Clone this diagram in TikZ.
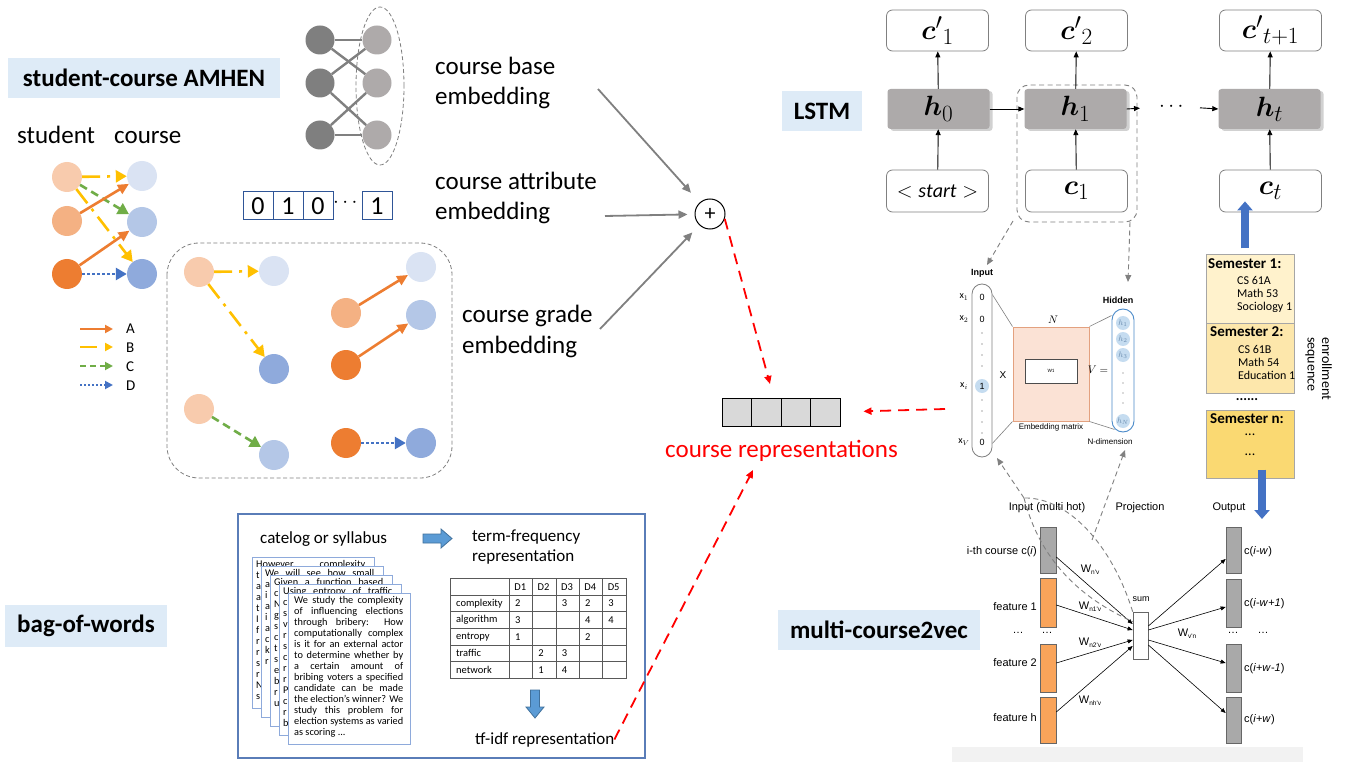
\documentclass[tikz,border=0pt]{standalone}
\usepackage{amsmath}
\usepackage{bm}
\usepackage{graphicx}
\usepackage{fontspec}
\setmainfont{Carlito}
\newfontfamily\helv{Liberation Sans}
\usetikzlibrary{arrows.meta,calc,shadows}

\newcommand\fsz[2]{\fontsize{#1}{#2}\selectfont}
\newcommand\jline[1]{\makebox[109pt][s]{#1}}
\newcommand\wsub[1]{W{\fsz{6.5}{7}\raisebox{-2.2pt}{#1}}}
\newcommand\lstmmath[1]{\scalebox{1.12}{#1}}

\definecolor{tagblue}{HTML}{DEEBF7}
\definecolor{stuA}{HTML}{F8CBAD}
\definecolor{stuB}{HTML}{F4B183}
\definecolor{stuC}{HTML}{ED7D31}
\definecolor{crsA}{HTML}{DAE3F3}
\definecolor{crsB}{HTML}{B4C7E7}
\definecolor{crsC}{HTML}{8FAADC}
\definecolor{colA}{HTML}{ED7D31}
\definecolor{colB}{HTML}{FFC000}
\definecolor{colC}{HTML}{70AD47}
\definecolor{colD}{HTML}{4472C4}
\definecolor{netdark}{HTML}{7F7F7F}
\definecolor{netlight}{HTML}{AEAAAA}
\definecolor{vecblue}{HTML}{2F5597}
\definecolor{boxgray}{HTML}{808080}
\definecolor{hgray}{HTML}{ADAAAA}
\definecolor{semA}{HTML}{FFF2CC}
\definecolor{semB}{HTML}{FDE7AB}
\definecolor{semC}{HTML}{FAD972}
\definecolor{semedge}{HTML}{A6A6A6}
\definecolor{featorange}{HTML}{F9A45A}
\definecolor{bargray}{HTML}{A9A9A9}
\definecolor{embfill}{HTML}{FBE2D5}
\definecolor{embline}{HTML}{E3A17F}
\definecolor{hidblue}{HTML}{4A8AC9}
\definecolor{hidfill}{HTML}{C5DCF0}
\definecolor{hidtext}{HTML}{6A8CAF}
\definecolor{pageline}{HTML}{8EAADB}
\definecolor{bowframe}{HTML}{5A7DB8}
\definecolor{blockblue}{HTML}{5B9BD5}
\definecolor{blockedge}{HTML}{41719C}
\definecolor{tblline}{HTML}{595959}

\tikzset{
  tag/.style={fill=tagblue, inner sep=0pt, font=\bfseries\fsz{25}{30}},
  bigtxt/.style={font=\fsz{25}{30}, inner sep=0pt, anchor=base west},
  midtxt/.style={font=\fsz{17}{20}, inner sep=0pt, anchor=base west},
  dot/.style={circle, minimum size=30pt, inner sep=0pt},
  tipbig/.style={-{Triangle[length=11pt,width=12pt]}},
  eA/.style={draw=colA, line width=2.6pt, -{Triangle[length=11pt,width=10pt]}},
  eB/.style={draw=colB, line width=2.6pt, dash pattern=on 18pt off 7pt on 3pt off 7pt, tipbig},
  eC/.style={draw=colC, line width=2.6pt, dash pattern=on 8pt off 5pt, tipbig},
  eD/.style={draw=colD, line width=2.6pt, dash pattern=on 2.6pt off 2.4pt, tipbig},
  legtip/.style={line width=2pt, -{Triangle[length=8pt,width=8pt]}},
  netnode/.style={circle, minimum size=29pt, inner sep=0pt},
  netedge/.style={draw=boxgray, line width=2.4pt},
  bitcell/.style={draw=vecblue, line width=1pt, minimum width=30pt, minimum height=28pt, inner sep=0pt, font=\fsz{26}{28}},
  grayarrow/.style={draw=boxgray, line width=1.8pt, -{Triangle[length=9pt,width=8pt]}},
  redarrow/.style={draw=red, line width=1.8pt, dash pattern=on 11pt off 7pt, -{Triangle[length=8pt,width=7pt]}},
  veccell/.style={draw=black, fill=black!15, line width=0.9pt, minimum width=29.5pt, minimum height=28pt, inner sep=0pt},
  lbox/.style={draw=boxgray, fill=white, rounded corners=6pt, line width=0.8pt, minimum width=102pt, minimum height=41pt, inner sep=0pt, font=\fsz{24.88}{30}},
  hbox/.style={fill=hgray, rounded corners=3pt, minimum width=102pt, minimum height=40pt, inner sep=0pt, font=\fsz{24.88}{30},
    drop shadow={shadow xshift=3pt, shadow yshift=-2pt, fill=black, opacity=0.18}},
  larrow/.style={draw=black, line width=0.9pt, -{Triangle[length=6pt,width=5pt]}},
  gdash/.style={draw=boxgray, line width=0.9pt, dash pattern=on 5pt off 3.5pt},
  gdasharrow/.style={gdash, -{Triangle[length=7pt,width=6pt]}},
  thin/.style={draw=boxgray, line width=0.6pt},
  tiny/.style={font=\helv\fsz{8}{9}, inner sep=0pt},
  small/.style={font=\helv\fsz{11}{12}, inner sep=0pt},
  semhead/.style={font=\bfseries\fsz{15}{17}, inner sep=0pt, anchor=base west},
  semitem/.style={font=\fsz{12}{14}, inner sep=0pt, anchor=base west},
  sembox/.style={draw=semedge, line width=1pt, minimum width=88pt, inner sep=0pt},
  bararrow/.style={draw=black, line width=0.6pt, -{Triangle[length=5pt,width=4pt]}},
  bar/.style={draw=black!60, line width=0.6pt, minimum width=16pt, inner sep=0pt},
  blockarrow/.style={draw=colD, line width=8pt, -{Triangle[length=9pt,width=15pt]}},
  page/.style={draw=pageline, fill=white, line width=1pt, minimum width=122pt, minimum height=151pt, inner sep=0pt},
  pagetext/.style={anchor=north west, inner sep=0pt, align=left, font=\fsz{10.3}{11}},
  tcell/.style={anchor=west, inner sep=0pt, font=\fsz{10.5}{12}}
}

\begin{document}
\begin{tikzpicture}[x=1pt,y=-1pt]
\useasboundingbox (0,0) rectangle (1345,762);
\fill[white] (0,0) rectangle (1345,762);

% ================= student-course AMHEN =================
\node[tag, minimum width=272pt, minimum height=40pt] (tagamh) at (144,78) {student-course AMHEN};
\node[bigtxt] (hdS) at (17,144) {student};
\node[bigtxt] (hdC) at (114,144) {course};

\node[dot, fill=stuA] (s1) at (67,177) {};
\node[dot, fill=stuB] (s2) at (67,221) {};
\node[dot, fill=stuC] (s3) at (67,274) {};
\node[dot, fill=crsA] (c1) at (142,176) {};
\node[dot, fill=crsB] (c2) at (142,222) {};
\node[dot, fill=crsC] (c3) at (142,274) {};
\draw[eB] (s1) -- (c3);
\draw[eC] (s1) -- (c2);
\draw[eA] (s2) -- (c1);
\draw[eA] (s3) -- (c2);
\draw[eB] (s1) -- (c1);
\draw[eD] (s3) -- (c3);

% legend
\coordinate (la0) at (80,329);  \coordinate (la1) at (113,329);
\coordinate (lb0) at (80,347);  \coordinate (lb1) at (113,347);
\coordinate (lc0) at (80,366);  \coordinate (lc1) at (113,366);
\coordinate (ld0) at (80,385);  \coordinate (ld1) at (113,385);
\draw[eA, legtip] (la0) -- (la1);
\draw[eB, legtip, dash pattern=on 17pt off 8pt] (lb0) -- (lb1);
\draw[eC, legtip, line width=1.8pt, dash pattern=on 6pt off 4pt] (lc0) -- (lc1);
\draw[eD, legtip, line width=1.8pt, dash pattern=on 2pt off 2pt] (ld0) -- (ld1);
\node[font=\fsz{15}{18}, anchor=west, inner sep=0pt] (lta) at (126,329) {A};
\node[font=\fsz{15}{18}, anchor=west, inner sep=0pt] (ltb) at (126,348) {B};
\node[font=\fsz{15}{18}, anchor=west, inner sep=0pt] (ltc) at (126,367) {C};
\node[font=\fsz{15}{18}, anchor=west, inner sep=0pt] (ltd) at (126,386) {D};

% ================= course base embedding (network icon) =================
\draw[gdash, line width=0.8pt, dash pattern=on 4pt off 2.5pt] (380,86) ellipse [x radius=24pt, y radius=79pt];
\node[netnode, fill=netdark] (nd1) at (320,40) {};
\node[netnode, fill=netdark] (nd2) at (320,83) {};
\node[netnode, fill=netdark] (nd3) at (320,135) {};
\node[netnode, fill=netlight] (nl1) at (377,40) {};
\node[netnode, fill=netlight] (nl2) at (377,83) {};
\node[netnode, fill=netlight] (nl3) at (377,135) {};
\draw[netedge] (nd1) -- (nl1);
\draw[netedge] (nd1) -- (nl2);
\draw[netedge] (nd2) -- (nl1);
\draw[netedge] (nd2) -- (nl3);
\draw[netedge] (nd3) -- (nl2);
\draw[netedge] (nd3) -- (nl3);

\node[bigtxt] (cbe1) at (435,75) {course base};
\node[bigtxt] (cbe2) at (435,105) {embedding};

% ================= course attribute embedding =================
\node[bitcell] (bit1) at (258,206) {0};
\node[bitcell] (bit2) at (288,206) {1};
\node[bitcell] (bit3) at (318,206) {0};
\node[font=\fsz{20}{22}, inner sep=0pt] (bitdots) at (347,203) {$\cdots$};
\node[bitcell] (bit4) at (377,206) {1};

\node[bigtxt] (cae1) at (435,190) {course attribute};
\node[bigtxt] (cae2) at (435,220) {embedding};

% ================= course grade embedding =================
\draw[gdash, line width=0.8pt, dash pattern=on 4pt off 2.5pt, rounded corners=32pt] (167,243) rectangle (452,478);
\node[dot, fill=stuA] (g1) at (199,272) {};
\node[dot, fill=crsA] (g2) at (274,271) {};
\node[dot, fill=crsC] (g3) at (274,369) {};
\node[dot, fill=stuA] (g4) at (199,409) {};
\node[dot, fill=crsB] (g5) at (274,455) {};
\node[dot, fill=stuB] (g6) at (346,313) {};
\node[dot, fill=crsA] (g7) at (421,267) {};
\node[dot, fill=stuC] (g8) at (346,365) {};
\node[dot, fill=crsB] (g9) at (421,315) {};
\node[dot, fill=stuC] (g10) at (346,443) {};
\node[dot, fill=crsC] (g11) at (421,443) {};
\draw[eB] (g1) -- (g2);
\draw[eB] (g1) -- (g3);
\draw[eC] (g4) -- (g5);
\draw[eA] (g6) -- (g7);
\draw[eA] (g8) -- (g9);
\draw[eD] (g10) -- (g11);

\node[bigtxt] (cge1) at (462,323) {course grade};
\node[bigtxt] (cge2) at (462,353) {embedding};

% ================= combination =================
\node[circle, draw=black, line width=1pt, minimum size=30pt, inner sep=0pt, font=\fsz{22}{22}] (plus) at (710,214) {+};
\coordinate (gaS) at (598,89);
\coordinate (gbS) at (605,216);
\coordinate (gcS) at (600,329);
\draw[grayarrow, shorten >=13pt] (gaS) -- (plus);
\draw[grayarrow, shorten >=7pt] (gbS) -- (plus);
\draw[grayarrow, shorten >=10pt] (gcS) -- (plus);

\node[veccell] (v1) at (736.75,412) {};
\node[veccell] (v2) at (766.25,412) {};
\node[veccell] (v3) at (795.75,412) {};
\node[veccell] (v4) at (825.25,412) {};
\node[font=\fsz{25}{30}, text=red, inner sep=0pt, anchor=base] (reptxt) at (781.5,457) {course representations};

\coordinate (repTop) at (770,384);
\coordinate (repBot) at (753,470);
\coordinate (embOut) at (945,409);
\draw[redarrow] (plus.-18) -- (repTop);
\draw[redarrow, shorten >=23pt] (embOut) -- (v4.east);

% ================= bag-of-words =================
\node[tag, minimum width=162pt, minimum height=42pt] (tagbow) at (86,626) {bag-of-words};
\draw[draw=bowframe, line width=1.3pt] (238,514) rectangle (645,758);
\node[midtxt] (catlbl) at (260,543) {catelog or syllabus};
\filldraw[fill=blockblue, draw=blockedge, line width=0.8pt]
  (423,534) -- (441,534) -- (441,529) -- (452,538.5) -- (441,548) -- (441,543) -- (423,543) -- cycle;
\node[midtxt] (tf1) at (472,541) {term-frequency};
\node[midtxt] (tf2) at (472,561) {representation};

% stacked documents: only the uncovered parts of the back pages carry text
\node[page] (pg1) at (313,632.5) {};
\node[pagetext] (pt1) at ($(pg1.north west)+(4.5,3.5)$) {%
\jline{However,  complexity}\\ t\\ a\\ a\\ t\\ I\\ f\\ r\\ r\\ s\\ r\\ N\\ s};
\node[page] (pg2) at (322,641.5) {};
\node[pagetext] (pt2) at ($(pg2.north west)+(4.5,3.5)$) {%
\jline{We  will  see  how  small}\\ a\\ i\\ a\\ i\\ a\\ c\\ k\\ r};
\node[page] (pg3) at (331,650.5) {};
\node[pagetext] (pt3) at ($(pg3.north west)+(4.5,3.5)$) {%
\jline{Given  a  function  based}\\ c\\ N\\ g\\ s\\ c\\ t\\ s\\ e\\ b\\ r\\ u};
\node[page] (pg4) at (340,659.5) {};
\node[pagetext] (pt4) at ($(pg4.north west)+(4.5,3.5)$) {%
\jline{Using  entropy  of  traffic}\\ c\\ s\\ v\\ r\\ s\\ c\\ r\\ r\\ P\\ c\\ r\\ b};
\node[page] (pg5) at (349,669) {};
\node[pagetext] (pt5) at ($(pg5.north west)+(6.5,3.5)$) {%
\jline{We study the complexity}\\ \jline{of influencing elections}\\ \jline{through bribery: How}\\
\jline{computationally complex}\\ \jline{is it for an external actor}\\ \jline{to determine whether by}\\
\jline{a certain amount of}\\ \jline{bribing voters a specified}\\ \jline{candidate can be made}\\
\jline{the election's winner? We}\\ \jline{study this problem for}\\ \jline{election systems as varied}\\
as scoring ...};

% term-frequency table
\foreach \yy in {578.3,595,611.7,628.3,645,661.7,678.3}
  \draw[draw=tblline, line width=0.9pt] (450,\yy) -- (626.7,\yy);
\foreach \xx in {450,509.3,532.7,556,579.3,602.7,626.7}
  \draw[draw=tblline, line width=0.9pt] (\xx,578.3) -- (\xx,678.3);
\foreach \c in {1,...,5}
  \node[tcell] (hd\c) at ({490.8+23.35*\c},586.7) {D\c};
\node[tcell] (rw1) at (456,603.3) {complexity};
\node[tcell] (rw2) at (456,620) {algorithm};
\node[tcell] (rw3) at (456,636.7) {entropy};
\node[tcell] (rw4) at (456,653.3) {traffic};
\node[tcell] (rw5) at (456,670) {network};
\foreach \c/\r/\v in {1/1/2,3/1/3,4/1/2,5/1/3,1/2/3,4/2/4,5/2/4,1/3/1,4/3/2,2/4/2,3/4/3,2/5/1,3/5/4}
  \node[tcell] (cell\c\r) at ({491.5+23.35*\c},{586.7+16.67*\r}) {\v};

\filldraw[fill=blockblue, draw=blockedge, line width=0.8pt]
  (530.5,690) -- (539.5,690) -- (539.5,707) -- (544,707) -- (535,718) -- (526,707) -- (530.5,707) -- cycle;
\node[midtxt] (tfidf) at (475,744) {tf-idf representation};
\draw[redarrow] (tfidf.east) -- (repBot);

% ================= LSTM =================
\node[tag, minimum width=80pt, minimum height=40pt] (taglstm) at (822,111) {LSTM};
\draw[gdash, rounded corners=12pt] (1017,85) rectangle (1137,222);

\node[lbox] (t0) at (937.5,30.5) {\lstmmath{${\bm{c}'}_{1}$}};
\node[lbox] (t1) at (1076.5,30.5) {\lstmmath{${\bm{c}'}_{2}$}};
\node[lbox] (t2) at (1270.5,30.5) {\lstmmath{${\bm{c}'}_{t+1}$}};
\node[hbox] (h0) at (938.5,109) {\lstmmath{$\bm{h}_{0}$}};
\node[hbox] (h1) at (1075.5,109) {\lstmmath{$\bm{h}_{1}$}};
\node[hbox] (h2) at (1269.5,109) {\lstmmath{$\bm{h}_{t}$}};
\node[lbox, minimum height=42pt, font=\fsz{20}{24}] (b0) at (937.5,191) {$<\mathit{start}>$};
\node[lbox, minimum height=42pt] (b1) at (1076.5,191) {\lstmmath{$\bm{c}_{1}$}};
\node[lbox, minimum height=42pt] (b2) at (1270.5,191) {\lstmmath{$\bm{c}_{t}$}};
\node[font=\fsz{22}{22}, inner sep=0pt] (hdots) at (1173,107) {$\cdots$};

\draw[larrow] (b0) -- (h0);
\draw[larrow] (b1) -- (h1);
\draw[larrow] (b2) -- (h2);
\draw[larrow] (h0) -- (t0);
\draw[larrow] (h1) -- (t1);
\draw[larrow] (h2) -- (t2);
\draw[larrow] (h0.east) -- (h1.west);
\draw[larrow, shorten >=19pt] (h1.east) -- (hdots.west);
\draw[larrow, shorten <=13pt] (hdots.east) -- (h2.west);

% ================= embedding layer =================
\coordinate (lstmL) at (1013,221);
\coordinate (lstmR) at (1130,222);
\coordinate (inTip) at (987,265);
\coordinate (hidTip) at (1128,282);
\draw[gdasharrow] (lstmL) -- (inTip);
\draw[gdasharrow] (lstmR) -- (hidTip);

\node[font=\helv\bfseries\fsz{9}{10}, inner sep=0pt] (inlbl) at (982,273) {Input};
\node[draw=boxgray, line width=0.8pt, rounded corners=10pt, minimum width=20pt, minimum height=173pt, inner sep=0pt] (incap) at (982,370.5) {};
\node[tiny, font=\helv\fsz{9}{10}] (iv1) at (982,297) {0};
\node[tiny, font=\helv\fsz{9}{10}] (iv2) at (982,319) {0};
\foreach \yy in {333,344,355,366,400,411,422,433}
  \fill[black!70] (982,\yy) circle (0.7pt);
\node[circle, fill=hidfill, minimum size=14pt, inner sep=0pt, font=\helv\fsz{9}{10}] (ivi) at (982,386) {1};
\node[tiny, font=\helv\fsz{9}{10}] (ivV) at (982,442) {0};
\node[inner sep=0pt, font=\fsz{10}{10}] (xl1) at (964,297) {$\mathrm{x}_1$};
\node[inner sep=0pt, font=\fsz{10}{10}] (xl2) at (964,319) {$\mathrm{x}_2$};
\node[inner sep=0pt, font=\fsz{10}{10}] (xli) at (964,386) {$\mathrm{x}_i$};
\node[inner sep=0pt, font=\fsz{10}{10}] (xlV) at (964,442) {$\mathrm{x}_V$};

\node[small, font=\helv\fsz{10}{10}] (times) at (1003,375) {X};
\node[draw=embline, fill=embfill, line width=1pt, minimum width=76pt, minimum height=94pt, inner sep=0pt] (emb) at (1051,374) {};
\node[draw=black!70, fill=white, line width=1pt, minimum width=52pt, minimum height=24pt, inner sep=0pt, font=\fsz{5}{6}] (w1) at (1051,371) {W1};
\node[inner sep=0pt, font=\fsz{11}{11}] (nlbl) at (1053,320) {$N$};
\node[tiny] (emblbl) at (1051,427) {Embedding matrix};
\node[inner sep=0pt, font=\fsz{11}{11}] (veq) at (1098,370) {$V=$};

\node[draw=hidblue, line width=0.9pt, rounded corners=11pt, minimum width=22pt, minimum height=123pt, inner sep=0pt] (hidcap) at (1123,370.5) {};
\node[circle, fill=hidfill, minimum size=14pt, inner sep=0pt, text=hidtext, font=\fsz{8}{8}] (hc1) at (1123,323) {$h_1$};
\node[circle, fill=hidfill, minimum size=14pt, inner sep=0pt, text=hidtext, font=\fsz{8}{8}] (hc2) at (1123,339) {$h_2$};
\node[circle, fill=hidfill, minimum size=14pt, inner sep=0pt, text=hidtext, font=\fsz{8}{8}] (hc3) at (1123,355) {$h_3$};
\foreach \yy in {373,383,393,403}
  \fill[black!60] (1123,\yy) circle (0.6pt);
\node[circle, fill=hidfill, minimum size=14pt, inner sep=0pt, text=hidtext, font=\fsz{8}{8}] (hcN) at (1123,421) {$h_N$};
\node[font=\helv\bfseries\fsz{9}{10}, inner sep=0pt] (hidlbl) at (1118,300) {Hidden};
\node[tiny] (ndim) at (1110,442) {N-dimension};

\draw[thin] ($(incap.north east)+(0,11)$) -- (emb.north west);
\draw[thin] ($(incap.south east)+(0,-14)$) -- (emb.south west);
\draw[thin] (emb.north east) -- ($(hidcap.north west)+(0,7)$);
\draw[thin] (emb.south east) -- ($(hidcap.south west)+(3,-3)$);

% ================= enrollment sequence =================
\node[sembox, fill=semA, minimum height=69pt] (sem1) at (1250,289.5) {};
\node[sembox, fill=semB, minimum height=69pt] (sem2) at (1250,358.5) {};
\node[sembox, fill=semC, minimum height=68pt] (semn) at (1250,444) {};
\node[semhead] (sh1) at (1208,269) {Semester 1:};
\node[semitem] (s1a) at (1237,285) {CS 61A};
\node[semitem] (s1b) at (1237,298) {Math 53};
\node[semitem] (s1c) at (1237,311) {Sociology 1};
\node[semhead] (sh2) at (1210,337) {Semester 2:};
\node[semitem] (s2a) at (1238,353) {CS 61B};
\node[semitem] (s2b) at (1238,366) {Math 54};
\node[semitem] (s2c) at (1238,379) {Education 1};
\node[font=\bfseries\fsz{14}{16}, inner sep=0pt] (semgap) at (1247,400) {......};
\node[semhead] (shn) at (1210,423) {Semester n:};
\node[font=\fsz{14}{16}, inner sep=0pt] (snd1) at (1250,435) {...};
\node[font=\fsz{14}{16}, inner sep=0pt] (snd2) at (1250,455) {...};
\node[font=\fsz{14}{16}, inner sep=0pt, rotate=-90, anchor=west] (enr1) at (1327,337) {enrollment};
\node[font=\fsz{14}{16}, inner sep=0pt, rotate=-90, anchor=west] (enr2) at (1310,337) {sequence};

\draw[blockarrow] ($(sem1.north)+(-5,-6)$) -- ($(b2.south)+(-25.5,-11)$);
\coordinate (seqOut) at (1262,519);
\draw[blockarrow] ($(semn.south)+(12,-9)$) -- (seqOut);

% ================= multi-course2vec =================
\node[tag, minimum width=202pt, minimum height=40pt] (tagmc) at (879,630) {multi-course2vec};
\fill[black!5] (952,747) rectangle (1303,762);

\node[small] (lblin) at (1047,508) {Input (multi hot)};
\node[small] (lblproj) at (1140,508) {Projection};
\node[small] (lblout) at (1229,508) {Output};

\node[bar, fill=bargray, minimum height=46pt] (ib0) at (1048,550) {};
\node[bar, fill=featorange, minimum height=49pt] (if1) at (1048,602.5) {};
\node[bar, fill=featorange, minimum height=48pt] (if2) at (1048,668) {};
\node[bar, fill=featorange, minimum height=46pt] (ifh) at (1048,720) {};
\node[bar, fill=bargray, minimum height=46pt, minimum width=15pt] (ob1) at (1233.5,550) {};
\node[bar, fill=bargray, minimum height=48pt, minimum width=15pt] (ob2) at (1233.5,603) {};
\node[bar, fill=bargray, minimum height=48pt, minimum width=15pt] (ob3) at (1233.5,668) {};
\node[bar, fill=bargray, minimum height=46pt, minimum width=15pt] (ob4) at (1233.5,720) {};
\node[draw=black!60, fill=white, line width=0.7pt, minimum width=15pt, minimum height=47pt, inner sep=0pt] (sum) at (1140.5,635.5) {};
\node[tiny, font=\helv\fsz{9}{10}] (sumlbl) at (1141,599) {sum};

\node[small, anchor=east] (ilb0) at (1037,552) {i-th course c(\textit{i})};
\node[small, anchor=east] (ilb1) at (1037,607) {feature 1};
\node[small, anchor=east] (ilb2) at (1037,663) {feature 2};
\node[small, anchor=east] (ilbh) at (1037,718) {feature h};
\node[small] (idot1) at (1018,633) {…};
\node[small] (idot2) at (1047,633) {…};
\node[small, anchor=west] (olb1) at (1244,552) {c(\textit{i}-\textit{w})};
\node[small, anchor=west] (olb2) at (1244,604) {c(\textit{i}-\textit{w}+\textit{1})};
\node[small, anchor=west] (olb3) at (1244,669) {c(\textit{i}+\textit{w}-\textit{1})};
\node[small, anchor=west] (olb4) at (1244,720) {c(\textit{i}+\textit{w})};
\node[small] (odot1) at (1233,633) {…};
\node[small] (odot2) at (1263,633) {…};

\draw[bararrow] ($(ib0.east)+(0,7)$) -- ($(sum.west)+(0,-11.5)$);
\draw[bararrow] ($(if1.east)+(0,2.5)$) -- ($(sum.west)+(0,-5.5)$);
\draw[bararrow] ($(if2.east)+(0,-5)$) -- ($(sum.west)+(0,4.5)$);
\draw[bararrow] ($(ifh.east)+(0,-8)$) -- ($(sum.west)+(0,10.5)$);
\draw[bararrow] ($(sum.east)+(0,-9.5)$) -- ($(ob1.west)+(0,9)$);
\draw[bararrow] ($(sum.east)+(0,-5.5)$) -- ($(ob2.west)+(0,4)$);
\draw[bararrow] ($(sum.east)+(0,4.5)$) -- ($(ob3.west)+(0,-5)$);
\draw[bararrow] ($(sum.east)+(0,9.5)$) -- ($(ob4.west)+(0,-7)$);

\node[small] (wl1) at (1090,570) {\wsub{n'v}};
\node[small] (wl2) at (1090,607) {\wsub{n1'v}};
\node[small] (wl3) at (1090,643) {\wsub{n2'v}};
\node[small] (wl4) at (1090,701) {\wsub{nh'v}};
\node[small] (wl5) at (1187,634) {\wsub{v'n}};

% links from the course2vec layers up to the embedding layer
\coordinate (apex) at (1024,498);
\coordinate (inBot) at (997,458);
\coordinate (projFoot) at (1092,540);
\coordinate (hidBot) at (1125,450);
\draw[gdash] (sum.north west) .. controls (1112,545) and (1068,497) .. (apex);
\draw[gdasharrow] (apex) -- (inBot);
\draw[gdash] (apex) .. controls (1040,560) and (1080,598) .. ($(sum.west)+(0,-14)$);
\draw[gdasharrow] (projFoot) -- (hidBot);

\end{tikzpicture}
\end{document}
